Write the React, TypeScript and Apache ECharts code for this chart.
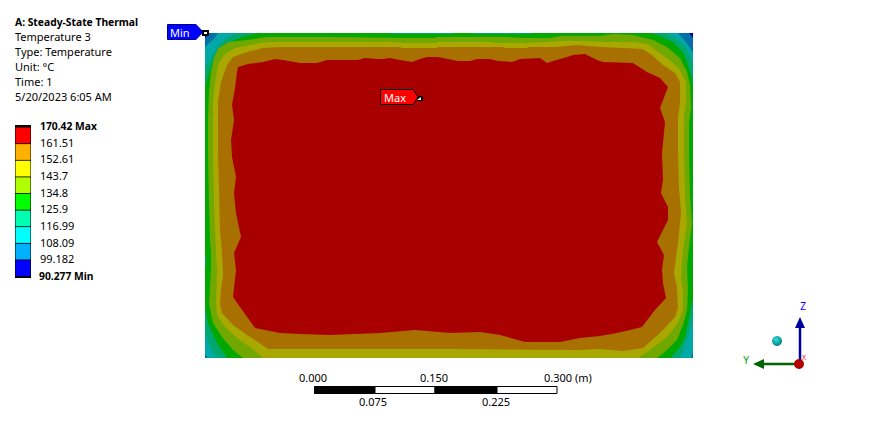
import React, { useEffect, useRef } from "react";
import * as echarts from "echarts";

type P = [number, number];

const headerLines = ["A: Steady-State Thermal", "Temperature 3", "Type: Temperature", "Unit: °C", "Time: 1", "5/20/2023 6:05 AM"];
const legendLabels = ["170.42 Max", "161.51", "152.61", "143.7", "134.8", "125.9", "116.99", "108.09", "99.182", "90.277 Min"];
const legendColors = ["#FF0000", "#FFB000", "#FFFF00", "#B0FF00", "#00FF00", "#00FFB0", "#00FFFF", "#00B0FF", "#0000FF"];
const bandColors = ["#0000A8", "#0070A8", "#00A8A8", "#00A870", "#00A800", "#70A800", "#A8A800", "#A87000", "#A80000"];
const scaleTop = [["0.000", 313], ["0.150", 434]] as const;
const scaleBottom = [["0.075", 373], ["0.225", 496]] as const;

// Isotherm outlines on the plate, in plate units (width 488, height 325, y from the top).
const plate: P[] = [[0, 0], [488, 0], [488, 325], [0, 325]];
const skyEdge: P[] = [[0, 5], [5, 0], [484, 0], [488, 5], [488, 325], [0, 325]];
const cyanEdge: P[] = [[0, 14], [4, 10], [9, 6], [13, 0], [473, 0], [480, 8], [485, 15], [488, 20], [488, 318], [486, 325], [3, 325], [0, 322]];
const tealEdge: P[] = [[0, 34], [4, 28], [8, 20], [14, 12], [22, 5], [32, 0], [461, 0], [470, 5], [480, 13], [485, 22], [488, 30], [488, 285], [483, 304], [478, 318], [475, 325], [12, 325], [5, 314], [0, 300]];
const greenEdge: P[] = [[0, 52], [3, 43], [6, 35], [9, 25], [13, 17], [18, 12], [28, 8], [40, 3], [53, 0], [185, 0], [185, 1], [248, 1], [248, 0], [269, 0], [269, 1], [326, 1], [326, 0], [445, 0], [455, 3], [468, 9], [478, 19], [483, 32], [487, 45], [488, 54], [488, 265], [485, 280], [480, 304], [475, 314], [465, 325], [22, 325], [12, 310], [3, 290], [0, 274], [0, 234], [1, 232], [1, 224], [0, 222]];
const limeEdge: P[] = [[3, 85], [4, 59], [6, 39], [9, 25], [13, 16], [23, 9], [42, 7], [62, 4], [82, 4], [125, 4], [200, 5], [230, 5], [232, 4], [300, 4], [320, 5], [345, 5], [355, 3], [375, 3], [395, 3], [408, 1], [428, 2], [448, 7], [462, 14], [475, 25], [482, 39], [485, 52], [486, 75], [484, 89], [484, 120], [485, 164], [487, 190], [484, 214], [482, 234], [483, 257], [482, 277], [478, 292], [472, 307], [462, 317], [452, 325], [38, 325], [28, 317], [17, 304], [8, 290], [4, 270], [5, 254], [6, 237], [6, 220], [5, 207], [4, 170], [3, 120]];
const yellowEdge: P[] = [[8, 92], [8, 69], [10, 49], [13, 32], [19, 22], [30, 15], [45, 12], [62, 9], [125, 9], [187, 9], [197, 10], [232, 10], [232, 9], [285, 9], [290, 10], [320, 10], [340, 9], [355, 8], [375, 8], [405, 9], [428, 9], [442, 11], [455, 20], [467, 29], [475, 37], [481, 49], [481, 69], [479, 82], [479, 120], [480, 164], [482, 190], [479, 210], [477, 227], [476, 247], [478, 257], [478, 277], [473, 290], [462, 304], [445, 317], [433, 325], [58, 325], [45, 314], [32, 305], [20, 294], [12, 282], [11, 270], [12, 237], [11, 220], [10, 197], [9, 170], [8, 120]];
const orangeEdge: P[] = [[13, 92], [13, 69], [16, 49], [22, 32], [28, 24], [42, 19], [58, 15], [75, 14], [125, 14], [195, 14], [197, 15], [232, 15], [233, 14], [298, 14], [300, 15], [322, 15], [323, 14], [350, 14], [362, 13], [372, 12], [395, 14], [418, 15], [438, 16], [447, 22], [458, 32], [470, 40], [475, 49], [475, 69], [473, 85], [473, 120], [474, 154], [476, 180], [473, 210], [469, 240], [472, 254], [473, 275], [470, 284], [455, 300], [438, 315], [418, 318], [395, 316], [375, 317], [250, 316], [63, 316], [53, 309], [42, 302], [28, 292], [17, 280], [15, 272], [16, 257], [18, 242], [17, 220], [15, 197], [14, 154], [13, 120]];
const redEdge: P[] = [[33, 34], [43, 31], [58, 29], [70, 26], [78, 27], [95, 30], [112, 30], [122, 27], [153, 27], [160, 25], [173, 26], [178, 26], [185, 25], [195, 27], [207, 29], [215, 26], [222, 24], [233, 24], [248, 27], [253, 28], [265, 28], [272, 26], [285, 26], [293, 28], [307, 29], [315, 26], [335, 25], [342, 30], [348, 28], [362, 24], [368, 22], [380, 21], [392, 27], [398, 29], [428, 30], [442, 39], [455, 45], [463, 54], [460, 62], [455, 75], [460, 89], [459, 100], [457, 120], [458, 147], [456, 160], [463, 174], [463, 187], [452, 209], [459, 222], [457, 237], [458, 250], [461, 265], [450, 277], [437, 294], [425, 297], [412, 300], [395, 303], [375, 305], [355, 309], [320, 309], [295, 302], [275, 299], [245, 300], [210, 297], [175, 300], [125, 302], [95, 301], [75, 300], [65, 298], [50, 295], [35, 274], [28, 264], [31, 237], [29, 220], [36, 204], [31, 180], [29, 160], [31, 144], [27, 124], [26, 107], [29, 87], [27, 72], [30, 55], [32, 39]];
const contours: P[][] = [plate, skyEdge, cyanEdge, tealEdge, greenEdge, limeEdge, yellowEdge, orangeEdge, redEdge];

const FONT = "'Noto Sans', sans-serif";
const BOLD = { fontWeight: "bold", fontSize: 10.3 };

function txt(text: string, x: number, y: number, o: any = {}) {
  return {
    type: "text", x, y: y - 0.5, z: 100, silent: true,
    style: { text, fontFamily: FONT, fontSize: 11, fill: "#000", verticalAlign: "middle", align: "left", ...o },
  };
}
function box(x: number, y: number, w: number, h: number, fill: string, stroke?: string) {
  return { type: "rect", z: 100, shape: { x, y, width: w, height: h }, style: { fill, stroke: stroke ?? undefined, lineWidth: stroke ? 1 : 0 } };
}

function buildGraphics() {
  const g: any[] = [];
  headerLines.forEach((t, i) => g.push(txt(t, 15, 22 + i * 15, i === 0 ? BOLD : {})));
  // colour key
  g.push(box(15, 125, 16, 153, "#000"));
  legendColors.forEach((c, i) => g.push(box(15.5, 127.5 + i * 16.6, 15, 15.8, c)));
  legendLabels.forEach((t, i) => {
    const bold = i === 0 || i === legendLabels.length - 1;
    g.push(txt(t, i === legendLabels.length - 1 ? 39 : 40, 126 + i * 16.67, bold ? BOLD : {}));
  });
  // probes
  g.push({ type: "polygon", z: 100, shape: { points: [[167.5, 24.5], [196, 24.5], [203, 32], [196, 39.5], [167.5, 39.5]] }, style: { fill: "#0000FF", stroke: "#000080", lineWidth: 1 } });
  g.push(box(202, 30, 7, 6, "#000"));
  g.push(box(204, 32, 3, 2, "#fff"));
  g.push(txt("Min", 170, 32.5, { fill: "#fff", fontSize: 11 }));
  g.push({ type: "polygon", z: 100, shape: { points: [[380.5, 89.5], [413, 89.5], [418, 97], [413, 104.5], [380.5, 104.5]] }, style: { fill: "#FF0000", stroke: "#000", lineWidth: 1 } });
  g.push(box(417, 96, 6, 5, "#000"));
  g.push({ type: "polygon", z: 101, shape: { points: [[417, 100], [421, 97], [421, 100]] }, style: { fill: "#fff" } });
  g.push(txt("Max", 384, 97.5, { fill: "#fff", fontSize: 11 }));
  // scale bar
  g.push(box(314.5, 386.5, 60, 7, "#000", "#000"), box(375, 386.5, 60, 7, "#fff", "#000"), box(435, 386.5, 62, 7, "#000", "#000"), box(497, 386.5, 60, 7, "#fff", "#000"));
  scaleTop.forEach(([t, x]) => g.push(txt(t, x, 378, { align: "center" })));
  g.push(txt("0.300 (m)", 544, 378));
  scaleBottom.forEach(([t, x]) => g.push(txt(t, x, 402, { align: "center" })));
  // triad
  g.push({ type: "circle", z: 100, shape: { cx: 777, cy: 341, r: 5 }, style: { fill: new echarts.graphic.RadialGradient(0.4, 0.35, 0.7, [{ offset: 0, color: "#30E0E0" }, { offset: 1, color: "#007878" }]) } });
  g.push({ type: "line", z: 100, shape: { x1: 800, y1: 364, x2: 800, y2: 325 }, style: { stroke: "#0000A0", lineWidth: 2.5 } });
  g.push({ type: "polygon", z: 100, shape: { points: [[800, 317], [805, 328], [795, 328]] }, style: { fill: "#0000A0" } });
  g.push({ type: "line", z: 100, shape: { x1: 800, y1: 364, x2: 762, y2: 364 }, style: { stroke: "#006400", lineWidth: 2.5 } });
  g.push({ type: "polygon", z: 100, shape: { points: [[753, 364], [764, 359], [764, 369]] }, style: { fill: "#006400" } });
  g.push({ type: "circle", z: 101, shape: { cx: 799, cy: 364, r: 5 }, style: { fill: "#B00000" } });
  g.push(txt("Z", 803, 306, { align: "center", fill: "#0000FF", fontSize: 10 }));
  g.push(txt("Y", 746, 360, { align: "center", fill: "#00A000", fontSize: 10 }));
  g.push(txt("X", 804, 358, { align: "center", fill: "#FF0000", fontSize: 7 }));
  return g;
}

export default function App() {
  const ref = useRef<HTMLDivElement>(null);
  useEffect(() => {
    const chart = echarts.init(ref.current!, undefined, { renderer: "svg" });
    chart.setOption({
      animation: false,
      backgroundColor: "#fff",
      grid: { left: 205, top: 33, width: 488, height: 325 },
      xAxis: { type: "value", min: 0, max: 488, show: false },
      yAxis: { type: "value", min: 0, max: 325, inverse: true, show: false },
      series: [{
        type: "custom",
        coordinateSystem: "cartesian2d",
        silent: true,
        clip: true,
        z: 1,
        encode: { x: 0, y: 1 },
        data: contours.map((_, i) => [0, 0, i]),
        renderItem: (_: any, api: any) => {
          const i = api.value(2);
          return {
            type: "polygon",
            shape: { points: contours[i].map((p) => api.coord(p)) },
            style: { fill: bandColors[i] },
          };
        },
      }],
      graphic: { elements: buildGraphics() },
    });
    return () => chart.dispose();
  }, []);
  return <div ref={ref} style={{ position: "fixed", left: 0, top: 0, width: 872, height: 425 }} />;
}
